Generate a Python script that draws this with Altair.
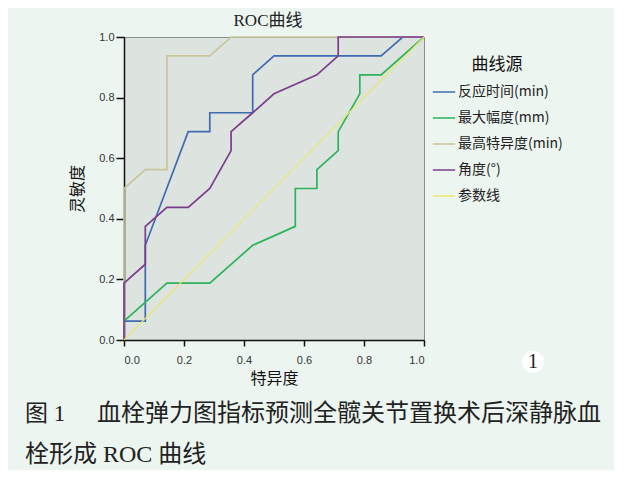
import altair as alt
import pandas as pd

series_names = ["反应时间(min)", "最大幅度(mm)", "最高特异度(min)", "角度(°)", "参数线"]
series_colors = ["#3F6BB2", "#2DB35B", "#C9C69B", "#7D3D8E", "#E8E86E"]

blue_x = [0, 0, 0.071, 0.071, 0.214, 0.286, 0.286, 0.429, 0.429, 0.5, 0.857, 0.929, 1.0]
blue_y = [0, 0.0625, 0.0625, 0.3125, 0.6875, 0.6875, 0.75, 0.75, 0.875, 0.9375, 0.9375, 1.0, 1.0]

green_x = [0, 0, 0.143, 0.286, 0.429, 0.571, 0.571, 0.643, 0.643, 0.714, 0.714, 0.786, 0.786, 0.857, 1.0]
green_y = [0, 0.0625, 0.1875, 0.1875, 0.3125, 0.375, 0.5, 0.5, 0.5625, 0.625, 0.6875, 0.8125, 0.875, 0.875, 1.0]

tan_x = [0, 0, 0.071, 0.143, 0.143, 0.286, 0.357, 1.0]
tan_y = [0, 0.5, 0.5625, 0.5625, 0.9375, 0.9375, 1.0, 1.0]

purple_x = [0, 0, 0.071, 0.071, 0.143, 0.214, 0.286, 0.357, 0.357, 0.429, 0.5, 0.643, 0.714, 0.714, 1.0]
purple_y = [0, 0.1875, 0.25, 0.375, 0.4375, 0.4375, 0.5, 0.625, 0.6875, 0.75, 0.8125, 0.875, 0.9375, 1.0, 1.0]

ref_x = [0, 1.0]
ref_y = [0, 1.0]

tick_values = [0.0, 0.2, 0.4, 0.6, 0.8, 1.0]
chart_title = "ROC曲线"
x_title = "特异度"
y_title = "灵敏度"
legend_title = "曲线源"
caption_fig = "图 1"
caption_line1 = "血栓弹力图指标预测全髋关节置换术后深静脉血"
caption_line2 = "栓形成 ROC 曲线"
corner_mark = "1"

rows = []
for name, xs, ys in zip(series_names,
                        [blue_x, green_x, tan_x, purple_x, ref_x],
                        [blue_y, green_y, tan_y, purple_y, ref_y]):
    for i, (xv, yv) in enumerate(zip(xs, ys)):
        rows.append({"series": name, "x": xv, "y": yv, "i": i})
df = pd.DataFrame(rows)

CJK = "Noto Sans CJK SC"
SERIF = "Liberation Serif, Noto Sans CJK SC"

lines = alt.Chart(df).mark_line(clip=False).encode(
    x=alt.X("x:Q", scale=alt.Scale(domain=[0, 1], nice=False),
            axis=alt.Axis(values=tick_values, format=".1f", title=x_title,
                          tickSize=6, labelPadding=8, titlePadding=5)),
    y=alt.Y("y:Q", scale=alt.Scale(domain=[0, 1], nice=False),
            axis=alt.Axis(values=tick_values, format=".1f", title=y_title,
                          tickSize=8, labelPadding=2, titlePadding=13)),
    color=alt.Color("series:N", sort=series_names,
                    scale=alt.Scale(domain=series_names, range=series_colors),
                    legend=alt.Legend(title=legend_title, orient="none",
                                      legendX=308, legendY=20,
                                      symbolType="stroke", symbolSize=500,
                                      symbolStrokeWidth=1.5, labelOffset=2,
                                      rowPadding=7, titleAnchor="middle",
                                      titlePadding=6)),
    order="i:Q",
    strokeWidth=alt.condition(alt.datum.series == "参数线", alt.value(1.1), alt.value(1.7)),
)

cap1a = alt.Chart(pd.DataFrame({"t": [caption_fig]})).mark_text(
    align="left", baseline="middle", font=SERIF, fontSize=23, color="#222"
).encode(text="t:N", x=alt.value(-99), y=alt.value(377))
cap1b = alt.Chart(pd.DataFrame({"t": [caption_line1]})).mark_text(
    align="left", baseline="middle", font=SERIF, fontSize=24, color="#222"
).encode(text="t:N", x=alt.value(-27), y=alt.value(377))
cap2 = alt.Chart(pd.DataFrame({"t": [caption_line2]})).mark_text(
    align="left", baseline="middle", font=SERIF, fontSize=24, color="#222"
).encode(text="t:N", x=alt.value(-99), y=alt.value(418))

mark_bg = alt.Chart(pd.DataFrame({"t": [corner_mark]})).mark_point(
    filled=True, color="white", opacity=1, size=480
).encode(x=alt.value(409), y=alt.value(325))
mark_txt = alt.Chart(pd.DataFrame({"t": [corner_mark]})).mark_text(
    font=SERIF, fontSize=20, color="#222", baseline="middle"
).encode(text="t:N", x=alt.value(409), y=alt.value(325))

chart = alt.layer(lines, cap1a, cap1b, cap2, mark_bg, mark_txt).properties(
    width=300, height=303,
    title=alt.TitleParams(chart_title, font=SERIF, fontSize=17, fontWeight="normal",
                          color="#222", anchor="middle", offset=1, dx=-6),
    background="#EDF5F0",
    padding={"left": 116, "top": 29, "right": 190, "bottom": 130},
    autosize=alt.AutoSizeParams(type="none"),
).configure_view(
    fill="#DDE3DE", stroke="#8A8F8A", strokeWidth=1
).configure_axis(
    domainColor="#111", domainWidth=1.5, tickColor="#111", tickWidth=1.5,
    labelFont="Liberation Sans", labelFontSize=11, labelColor="#333",
    titleFont=CJK, titleFontSize=16, titleFontWeight="normal", titleColor="#111",
    grid=False,
).configure_legend(
    titleFont=CJK, titleFontSize=17, titleFontWeight="normal", titleColor="#111",
    labelFont=CJK, labelFontSize=14, labelColor="#222", labelLimit=200,
)

chart.save("out.html", embed_options={"renderer": "svg", "actions": False})
